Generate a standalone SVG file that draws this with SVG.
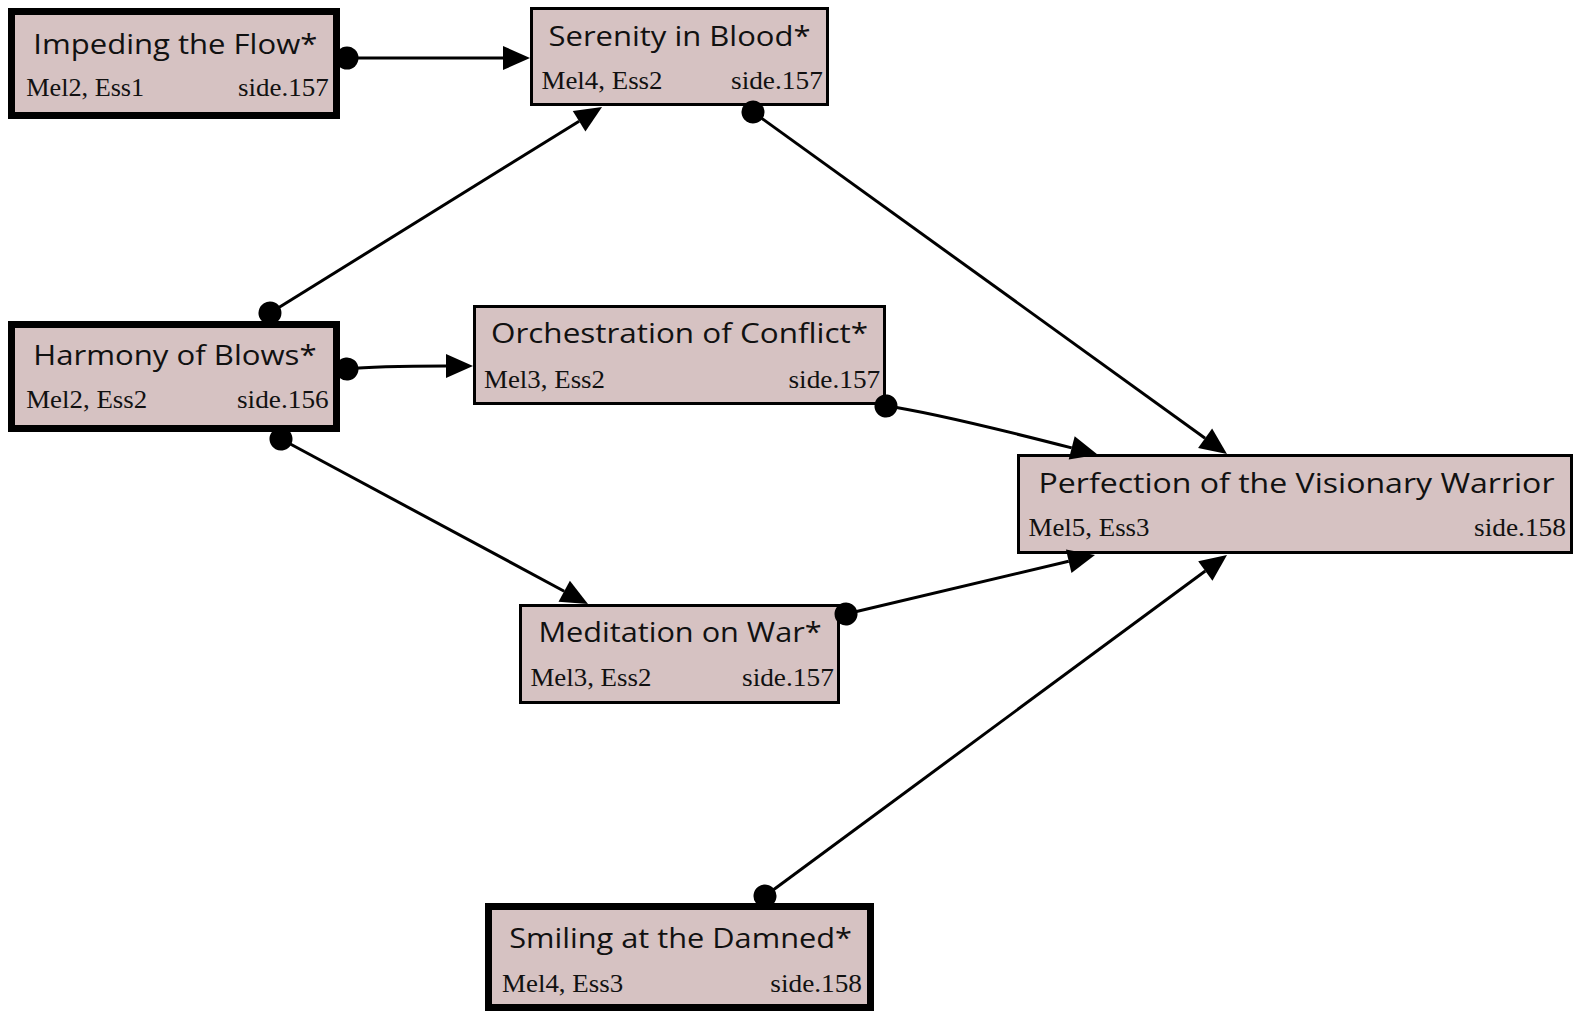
<svg xmlns="http://www.w3.org/2000/svg" width="1581" height="1013" viewBox="0 0 1581 1013">
  <defs>
    <style>
      .box { fill: #d6c2c2; stroke: #000; stroke-width: 3; }
      .box.entry { stroke-width: 7; }
      .title { font-family: "Open Sans", "DejaVu Sans", sans-serif; font-size: 28px; fill: #111; }
      .sub { font-family: "Liberation Serif", "DejaVu Serif", serif; font-size: 25px; fill: #111; }
      .edge { fill: none; stroke: #000; stroke-width: 3; marker-start: url(#dot); marker-end: url(#arrow); }
    </style>
    <marker id="arrow" markerUnits="userSpaceOnUse" markerWidth="30" markerHeight="26" refX="0" refY="12" orient="auto" overflow="visible">
      <path d="M0,0 L27,12 L0,24 z" fill="#000"/>
    </marker>
    <marker id="dot" markerUnits="userSpaceOnUse" markerWidth="26" markerHeight="26" refX="13" refY="13" orient="auto" overflow="visible">
      <circle cx="13" cy="13" r="11.5" fill="#000"/>
    </marker>
  </defs>
  <rect width="1581" height="1013" fill="#fff"/>

  <g id="nodes">
    <g id="impeding">
      <rect class="box entry" x="11.5" y="11.5" width="325" height="104"/>
      <text class="title" x="33.3" y="53.5" textLength="284" lengthAdjust="spacingAndGlyphs">Impeding the Flow*</text>
      <text class="sub" x="26.2" y="96.3" textLength="118" lengthAdjust="spacingAndGlyphs">Mel2, Ess1</text>
      <text class="sub" x="238" y="96.3" textLength="90.7" lengthAdjust="spacingAndGlyphs">side.157</text>
    </g>
    <g id="serenity">
      <rect class="box" x="531.5" y="8.5" width="296" height="96"/>
      <text class="title" x="548.5" y="45.6" textLength="262" lengthAdjust="spacingAndGlyphs">Serenity in Blood*</text>
      <text class="sub" x="541.5" y="89.2" textLength="121" lengthAdjust="spacingAndGlyphs">Mel4, Ess2</text>
      <text class="sub" x="731" y="89.2" textLength="91.8" lengthAdjust="spacingAndGlyphs">side.157</text>
    </g>
    <g id="harmony">
      <rect class="box entry" x="11.5" y="324.5" width="325" height="104"/>
      <text class="title" x="33.3" y="365" textLength="283.3" lengthAdjust="spacingAndGlyphs">Harmony of Blows*</text>
      <text class="sub" x="26.2" y="407.9" textLength="121" lengthAdjust="spacingAndGlyphs">Mel2, Ess2</text>
      <text class="sub" x="237" y="407.9" textLength="91.7" lengthAdjust="spacingAndGlyphs">side.156</text>
    </g>
    <g id="orchestration">
      <rect class="box" x="474.5" y="306.5" width="410" height="97"/>
      <text class="title" x="491" y="342.8" textLength="377" lengthAdjust="spacingAndGlyphs">Orchestration of Conflict*</text>
      <text class="sub" x="484" y="387.7" textLength="121" lengthAdjust="spacingAndGlyphs">Mel3, Ess2</text>
      <text class="sub" x="788.5" y="387.7" textLength="91.7" lengthAdjust="spacingAndGlyphs">side.157</text>
    </g>
    <g id="perfection">
      <rect class="box" x="1018.5" y="455.5" width="553" height="97"/>
      <text class="title" x="1038.5" y="492.5" textLength="516" lengthAdjust="spacingAndGlyphs">Perfection of the Visionary Warrior</text>
      <text class="sub" x="1028.5" y="535.9" textLength="121" lengthAdjust="spacingAndGlyphs">Mel5, Ess3</text>
      <text class="sub" x="1474" y="535.9" textLength="92" lengthAdjust="spacingAndGlyphs">side.158</text>
    </g>
    <g id="meditation">
      <rect class="box" x="520.5" y="605.5" width="318" height="97"/>
      <text class="title" x="538.4" y="641.8" textLength="283.3" lengthAdjust="spacingAndGlyphs">Meditation on War*</text>
      <text class="sub" x="530.4" y="686.1" textLength="121" lengthAdjust="spacingAndGlyphs">Mel3, Ess2</text>
      <text class="sub" x="742" y="686.1" textLength="91.8" lengthAdjust="spacingAndGlyphs">side.157</text>
    </g>
    <g id="smiling">
      <rect class="box entry" x="488.5" y="906.5" width="382" height="101"/>
      <text class="title" x="509.2" y="948.3" textLength="342.8" lengthAdjust="spacingAndGlyphs">Smiling at the Damned*</text>
      <text class="sub" x="502.1" y="991.7" textLength="121" lengthAdjust="spacingAndGlyphs">Mel4, Ess3</text>
      <text class="sub" x="770.3" y="991.7" textLength="91.7" lengthAdjust="spacingAndGlyphs">side.158</text>
    </g>
  </g>

  <g id="connectors">
    <path class="edge" d="M347,58 L503,58"/>
    <path class="edge" d="M270,313 L579.1,121.2"/>
    <path class="edge" d="M347,369 C375,366 410,366 446,366"/>
    <path class="edge" d="M281,439 L564.2,591.2"/>
    <path class="edge" d="M753,112 L1205.1,438.2"/>
    <path class="edge" d="M886,406 C930,412 1010,432 1071.7,447.9"/>
    <path class="edge" d="M846,614 L1068.7,561.2"/>
    <path class="edge" d="M765,896 L1205.3,571"/>
  </g>
</svg>
